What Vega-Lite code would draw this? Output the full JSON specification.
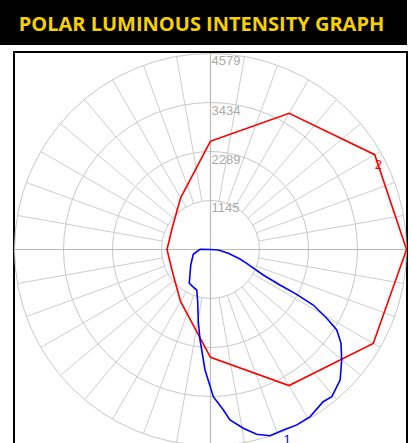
{
  "$schema": "https://vega.github.io/schema/vega-lite/v6.json",
  "padding": 0,
  "background": "white",
  "config": {"view": {"stroke": null}},
  "spacing": 7,
  "bounds": "flush",
  "vconcat": [
    {
      "width": 407,
      "height": 45,
      "view": {"fill": "black", "stroke": null},
      "data": {"values": [{"t": "POLAR LUMINOUS INTENSITY GRAPH"}]},
      "mark": {"type": "text", "font": "Open Sans", "fontWeight": "bold", "fontSize": 20, "color": "#f7d000", "align": "center", "baseline": "middle", "dx": -2, "dy": 2},
      "encoding": {"text": {"field": "t", "type": "nominal"}}
    },
    {
      "spacing": 0,
      "bounds": "flush",
      "hconcat": [
        {
          "width": 14,
          "height": 395,
          "view": {"stroke": null},
          "data": {"values": [{"k": 1}]},
          "mark": {"type": "point", "opacity": 0}
        },
        {
          "width": 393,
          "height": 395,
          "view": {"stroke": "black", "strokeWidth": 2},
          "layer": [
            {
              "data": {"values": [{"v": 1145}, {"v": 2289}, {"v": 3434}, {"v": 4579}]},
              "mark": {"type": "point", "shape": "circle", "filled": false, "opacity": 1, "stroke": "#c8c8c8", "strokeWidth": 1},
              "encoding": {
                "x": {"datum": 0, "type": "quantitative", "scale": {"domain": [-4590, 4590], "nice": false}, "axis": null},
                "y": {"datum": 0, "type": "quantitative", "scale": {"domain": [-4614, 4614], "nice": false}, "axis": null},
                "size": {"field": "v", "type": "quantitative", "scale": {"type": "pow", "exponent": 2, "domain": [0, 4579], "range": [0, 153664], "zero": true, "nice": false}, "legend": null}
              }
            },
            {
              "data": {"values": [
                {"a": 10}, {"a": 20}, {"a": 30}, {"a": 40}, {"a": 50}, {"a": 60}, {"a": 70}, {"a": 80},
                {"a": 100}, {"a": 110}, {"a": 120}, {"a": 130}, {"a": 140}, {"a": 150}, {"a": 160}, {"a": 170},
                {"a": 190}, {"a": 200}, {"a": 210}, {"a": 220}, {"a": 230}, {"a": 240}, {"a": 250}, {"a": 260},
                {"a": 280}, {"a": 290}, {"a": 300}, {"a": 310}, {"a": 320}, {"a": 330}, {"a": 340}, {"a": 350}
              ]},
              "transform": [
                {"calculate": "1145*sin(datum.a*PI/180)", "as": "x1"},
                {"calculate": "1145*cos(datum.a*PI/180)", "as": "y1"},
                {"calculate": "4579*sin(datum.a*PI/180)", "as": "x2"},
                {"calculate": "4579*cos(datum.a*PI/180)", "as": "y2"}
              ],
              "mark": {"type": "rule", "color": "#cdcdcd", "strokeWidth": 1},
              "encoding": {
                "x": {"field": "x1", "type": "quantitative", "scale": {"domain": [-4590, 4590], "nice": false}, "axis": null},
                "y": {"field": "y1", "type": "quantitative", "scale": {"domain": [-4614, 4614], "nice": false}, "axis": null},
                "x2": {"field": "x2"},
                "y2": {"field": "y2"}
              }
            },
            {
              "data": {"values": [{"a": 0}, {"a": 90}]},
              "transform": [
                {"calculate": "-4579*sin(datum.a*PI/180)", "as": "x1"},
                {"calculate": "-4579*cos(datum.a*PI/180)", "as": "y1"},
                {"calculate": "4579*sin(datum.a*PI/180)", "as": "x2"},
                {"calculate": "4579*cos(datum.a*PI/180)", "as": "y2"}
              ],
              "mark": {"type": "rule", "color": "#b9b9b9", "strokeWidth": 1.2},
              "encoding": {
                "x": {"field": "x1", "type": "quantitative", "scale": {"domain": [-4590, 4590], "nice": false}, "axis": null},
                "y": {"field": "y1", "type": "quantitative", "scale": {"domain": [-4614, 4614], "nice": false}, "axis": null},
                "x2": {"field": "x2"},
                "y2": {"field": "y2"}
              }
            },
            {
              "data": {"values": [{"v": 1145, "t": "1145"}, {"v": 2289, "t": "2289"}, {"v": 3434, "t": "3434"}, {"v": 4579, "t": "4579"}]},
              "mark": {"type": "text", "font": "Liberation Sans", "fontSize": 13, "color": "#aaaaaa", "align": "left", "baseline": "top", "dx": 1, "dy": 2},
              "encoding": {
                "x": {"datum": 0, "type": "quantitative", "scale": {"domain": [-4590, 4590], "nice": false}, "axis": null},
                "y": {"field": "v", "type": "quantitative", "scale": {"domain": [-4614, 4614], "nice": false}, "axis": null},
                "text": {"field": "t", "type": "nominal"}
              }
            },
            {
              "data": {"values": [
                {"s": "2", "i": 0, "a": 0, "v": 2530},
                {"s": "2", "i": 1, "a": 30, "v": 3675},
                {"s": "2", "i": 2, "a": 60, "v": 4430},
                {"s": "2", "i": 3, "a": 90, "v": 4579},
                {"s": "2", "i": 4, "a": 120, "v": 4390},
                {"s": "2", "i": 5, "a": 150, "v": 3670},
                {"s": "2", "i": 6, "a": 180, "v": 2520},
                {"s": "2", "i": 7, "a": 210, "v": 1400},
                {"s": "2", "i": 8, "a": 240, "v": 1030},
                {"s": "2", "i": 9, "a": 270, "v": 1016},
                {"s": "2", "i": 10, "a": 300, "v": 1030},
                {"s": "2", "i": 11, "a": 330, "v": 1395},
                {"s": "2", "i": 12, "a": 360, "v": 2530},
                {"s": "1", "i": 0, "a": 0, "v": 0},
                {"s": "1", "i": 1, "a": 93.7, "v": 182},
                {"s": "1", "i": 2, "a": 102, "v": 425},
                {"s": "1", "i": 3, "a": 107.8, "v": 724},
                {"s": "1", "i": 4, "a": 110.9, "v": 904},
                {"s": "1", "i": 5, "a": 115.8, "v": 1369},
                {"s": "1", "i": 6, "a": 117.1, "v": 1822},
                {"s": "1", "i": 7, "a": 117.5, "v": 2259},
                {"s": "1", "i": 8, "a": 118.4, "v": 2728},
                {"s": "1", "i": 9, "a": 120.6, "v": 3154},
                {"s": "1", "i": 10, "a": 122.5, "v": 3497},
                {"s": "1", "i": 11, "a": 125.7, "v": 3754},
                {"s": "1", "i": 12, "a": 130.1, "v": 4006},
                {"s": "1", "i": 13, "a": 135.2, "v": 4296},
                {"s": "1", "i": 14, "a": 140.5, "v": 4455},
                {"s": "1", "i": 15, "a": 143.5, "v": 4424},
                {"s": "1", "i": 16, "a": 149.2, "v": 4546},
                {"s": "1", "i": 17, "a": 153.8, "v": 4567},
                {"s": "1", "i": 18, "a": 158, "v": 4546},
                {"s": "1", "i": 19, "a": 162.3, "v": 4567},
                {"s": "1", "i": 20, "a": 166, "v": 4450},
                {"s": "1", "i": 21, "a": 169.6, "v": 4247},
                {"s": "1", "i": 22, "a": 173.5, "v": 4009},
                {"s": "1", "i": 23, "a": 175.4, "v": 3761},
                {"s": "1", "i": 24, "a": 178.9, "v": 3439},
                {"s": "1", "i": 25, "a": 182.6, "v": 2817},
                {"s": "1", "i": 26, "a": 186.6, "v": 2128},
                {"s": "1", "i": 27, "a": 189.6, "v": 1710},
                {"s": "1", "i": 28, "a": 193.8, "v": 1254},
                {"s": "1", "i": 29, "a": 198.8, "v": 1000},
                {"s": "1", "i": 30, "a": 205.6, "v": 962},
                {"s": "1", "i": 31, "a": 212.1, "v": 932},
                {"s": "1", "i": 32, "a": 231.9, "v": 586},
                {"s": "1", "i": 33, "a": 254.4, "v": 418},
                {"s": "1", "i": 34, "a": 271, "v": 245},
                {"s": "1", "i": 35, "a": 360, "v": 0}
              ]},
              "transform": [
                {"calculate": "datum.v*sin(datum.a*PI/180)", "as": "x"},
                {"calculate": "datum.v*cos(datum.a*PI/180)", "as": "y"}
              ],
              "mark": {"type": "line", "strokeWidth": 1.6, "interpolate": "linear"},
              "encoding": {
                "x": {"field": "x", "type": "quantitative", "scale": {"domain": [-4590, 4590], "nice": false}, "axis": null},
                "y": {"field": "y", "type": "quantitative", "scale": {"domain": [-4614, 4614], "nice": false}, "axis": null},
                "color": {"field": "s", "type": "nominal", "scale": {"domain": ["1", "2"], "range": ["#0000ff", "#ff0000"]}, "legend": null},
                "order": {"field": "i", "type": "quantitative"}
              }
            },
            {
              "data": {"values": [{"s": "2", "a": 60, "v": 4430}, {"s": "1", "a": 158, "v": 4546}]},
              "transform": [
                {"calculate": "datum.v*sin(datum.a*PI/180)", "as": "x"},
                {"calculate": "datum.v*cos(datum.a*PI/180)", "as": "y"}
              ],
              "mark": {"type": "text", "font": "Liberation Sans", "fontSize": 13, "align": "left", "baseline": "top", "dx": 0, "dy": 4},
              "encoding": {
                "x": {"field": "x", "type": "quantitative", "scale": {"domain": [-4590, 4590], "nice": false}, "axis": null},
                "y": {"field": "y", "type": "quantitative", "scale": {"domain": [-4614, 4614], "nice": false}, "axis": null},
                "text": {"field": "s", "type": "nominal"},
                "color": {"field": "s", "type": "nominal", "scale": {"domain": ["1", "2"], "range": ["#0000ff", "#ff0000"]}, "legend": null}
              }
            }
          ]
        }
      ]
    }
  ]
}
